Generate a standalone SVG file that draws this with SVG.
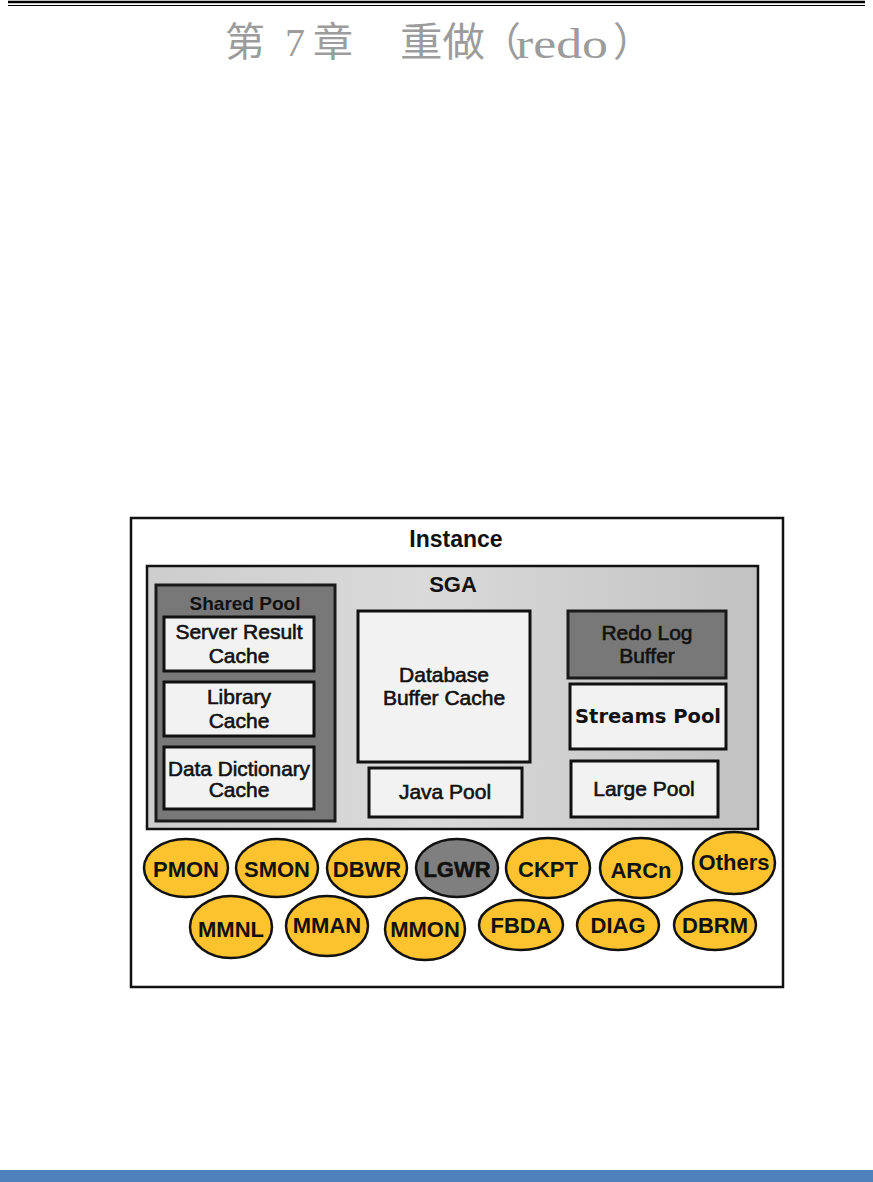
<svg xmlns="http://www.w3.org/2000/svg" width="873" height="1182" viewBox="0 0 873 1182">
<style>
.t{font-family:"Liberation Sans",Arial,sans-serif;text-anchor:middle;fill:#111}
.r{font-size:21px;stroke:#111;stroke-width:0.6}
.b{font-weight:bold}
.box{fill:#f2f2f2;stroke:#111;stroke-width:3}
.dark{fill:#787878;stroke:#1a1a1a;stroke-width:3}
.proc{fill:#fcc32f;stroke:#111;stroke-width:2.5}
.pt{font-family:"Liberation Sans",Arial,sans-serif;font-weight:bold;text-anchor:middle;fill:#111;font-size:22px}
.title{font-family:"Liberation Serif","Noto Sans CJK SC",serif;fill:#9c9c9c}
.cjk{font-family:"Noto Sans CJK SC",sans-serif;font-size:40px}
</style>
<defs>
<linearGradient id="sga" x1="0" y1="0" x2="1" y2="0">
<stop offset="0" stop-color="#cdcdcd"/>
<stop offset="0.45" stop-color="#dadada"/>
<stop offset="1" stop-color="#c2c2c2"/>
</linearGradient>
</defs>
<rect width="873" height="1182" fill="#fff"/>
<g id="header">
<line x1="8" y1="2" x2="865" y2="2" stroke="#000" stroke-width="2.5"/>
<line x1="8" y1="5.5" x2="865" y2="5.5" stroke="#000" stroke-width="1"/>
<g class="title">
<text class="cjk" x="225" y="56">第</text>
<text x="285" y="56" font-size="40">7</text>
<text class="cjk" x="313" y="56">章</text>
<text class="cjk" x="400" y="56" textLength="85" lengthAdjust="spacingAndGlyphs">重做</text>
<text class="cjk" x="481" y="56">（</text>
<text x="516" y="58" font-size="42" textLength="92" lengthAdjust="spacingAndGlyphs">redo</text>
<text class="cjk" x="613" y="56">）</text>
</g>
</g>
<g id="instance">
<rect x="131" y="518" width="652" height="469" fill="#fff" stroke="#111" stroke-width="2.5"/>
<text class="t b" x="456" y="547" font-size="23">Instance</text>
</g>
<g id="sga-box">
<rect x="147" y="566" width="611" height="263" fill="url(#sga)" stroke="#111" stroke-width="2.5"/>
<text class="t b" x="453" y="592" font-size="22">SGA</text>
</g>
<g id="shared-pool">
<rect class="dark" x="156" y="585" width="179" height="236"/>
<text class="t b" x="245" y="610" font-size="19" fill="#1a1a1a">Shared Pool</text>
</g>
<g id="server-result-cache">
<rect class="box" x="164" y="617" width="150" height="54"/>
<text class="t r" x="239" y="639">Server Result</text>
<text class="t r" x="239" y="663">Cache</text>
</g>
<g id="library-cache">
<rect class="box" x="164" y="682" width="150" height="54"/>
<text class="t r" x="239" y="704">Library</text>
<text class="t r" x="239" y="728">Cache</text>
</g>
<g id="data-dictionary-cache">
<rect class="box" x="164" y="747" width="150" height="62"/>
<text class="t r" x="239" y="776" textLength="142" lengthAdjust="spacingAndGlyphs">Data Dictionary</text>
<text class="t r" x="239" y="797">Cache</text>
</g>
<g id="database-buffer-cache">
<rect class="box" x="358" y="611" width="172" height="151"/>
<text class="t r" x="444" y="682" font-size="20">Database</text>
<text class="t r" x="444" y="705" font-size="20">Buffer Cache</text>
</g>
<g id="java-pool">
<rect class="box" x="369" y="768" width="153" height="49"/>
<text class="t r" x="445" y="799" font-size="20">Java Pool</text>
</g>
<g id="redo-log-buffer">
<rect class="dark" x="568" y="611" width="158" height="67"/>
<text class="t r" x="647" y="640" font-size="20">Redo Log</text>
<text class="t r" x="647" y="663" font-size="20">Buffer</text>
</g>
<g id="streams-pool">
<rect class="box" x="570" y="684" width="156" height="65"/>
<text x="648" y="723" font-family="DejaVu Sans,Verdana,sans-serif" font-weight="bold" font-size="19" text-anchor="middle" fill="#111" textLength="146" lengthAdjust="spacingAndGlyphs">Streams Pool</text>
</g>
<g id="large-pool">
<rect class="box" x="571" y="761" width="147" height="56"/>
<text class="t r" x="644" y="796" font-size="20">Large Pool</text>
</g>
<g id="pmon"><ellipse class="proc" cx="186" cy="868" rx="42" ry="29"/><text class="pt" x="186" y="877" font-size="23">PMON</text></g>
<g id="smon"><ellipse class="proc" cx="277" cy="868" rx="41" ry="29"/><text class="pt" x="277" y="877" font-size="23">SMON</text></g>
<g id="dbwr"><ellipse class="proc" cx="367" cy="868" rx="40" ry="29"/><text class="pt" x="367" y="877" font-size="23">DBWR</text></g>
<g id="lgwr"><ellipse cx="457" cy="868" rx="41" ry="29" fill="#7f7f7f" stroke="#111" stroke-width="2.5"/><text class="pt" x="457" y="877" font-size="23" font-weight="normal" stroke="#111" stroke-width="0.5">LGWR</text></g>
<g id="ckpt"><ellipse class="proc" cx="548" cy="868" rx="42" ry="30"/><text class="pt" x="548" y="877" font-size="22">CKPT</text></g>
<g id="arcn"><ellipse class="proc" cx="641" cy="868" rx="41" ry="30"/><text class="pt" x="641" y="878" font-size="22">ARCn</text></g>
<g id="others"><ellipse class="proc" cx="734" cy="863" rx="41" ry="31"/><text class="pt" x="734" y="870" font-size="21">Others</text></g>
<g id="mmnl"><ellipse class="proc" cx="231" cy="927" rx="41" ry="31"/><text class="pt" x="231" y="937" font-size="20">MMNL</text></g>
<g id="mman"><ellipse class="proc" cx="327" cy="926" rx="41" ry="30"/><text class="pt" x="327" y="933" font-size="21">MMAN</text></g>
<g id="mmon"><ellipse class="proc" cx="425" cy="929" rx="40" ry="31"/><text class="pt" x="425" y="937" font-size="21">MMON</text></g>
<g id="fbda"><ellipse class="proc" cx="521" cy="925" rx="42" ry="25"/><text class="pt" x="521" y="933" font-size="20">FBDA</text></g>
<g id="diag"><ellipse class="proc" cx="618" cy="925" rx="41" ry="25"/><text class="pt" x="618" y="933" font-size="20">DIAG</text></g>
<g id="dbrm"><ellipse class="proc" cx="715" cy="925" rx="41" ry="25"/><text class="pt" x="715" y="933" font-size="20">DBRM</text></g>
<g id="connectors"></g>
<rect id="footer" x="0" y="1170" width="873" height="12" fill="#4f81bd"/>
</svg>
